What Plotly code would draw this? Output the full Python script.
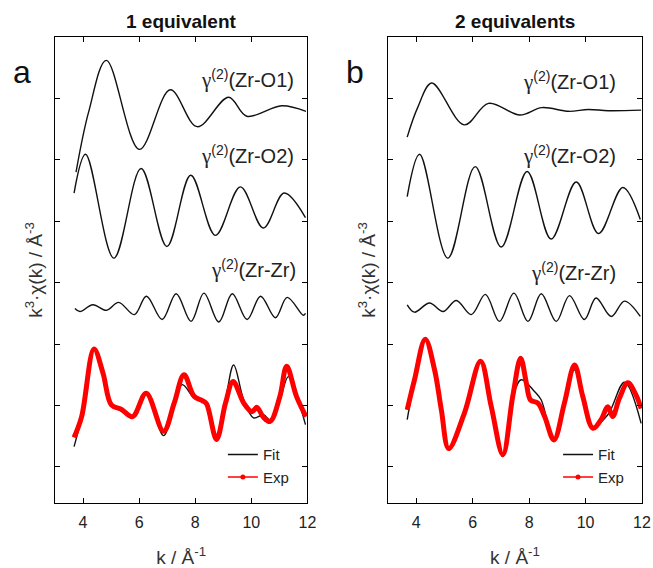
import plotly.graph_objects as go

# ---------------- data ----------------
# Panel a: 1 equivalent
K_O1_A = [3.75, 4.20, 4.83, 6.01, 7.11, 8.07, 9.19, 9.84, 11.08, 11.95]
Y_O1_A = [4.80, 5.78, 6.62, 5.17, 6.14, 5.54, 6.02, 5.71, 5.88, 5.79]

K_O2_A = [3.68, 4.09, 5.10, 6.07, 6.99, 7.84, 8.72, 9.61, 10.43, 11.17, 11.93]
Y_O2_A = [4.46, 5.09, 3.40, 4.86, 3.59, 4.75, 3.77, 4.56, 3.89, 4.46, 4.06]

K_ZZ_A = [3.71, 3.89, 4.35, 4.84, 5.27, 5.83, 6.26, 6.82, 7.32, 7.85, 8.31, 8.84,
          9.32, 9.85, 10.33, 10.86, 11.28, 11.85, 11.93]
Y_ZZ_A = [2.58, 2.53, 2.64, 2.55, 2.68, 2.48, 2.78, 2.40, 2.82, 2.37, 2.83, 2.36,
          2.82, 2.40, 2.78, 2.43, 2.76, 2.47, 2.50]

K_FIT_A = [3.68, 3.95, 4.39, 4.71, 5.01, 5.36, 5.77, 6.25, 6.87, 7.25, 7.54, 7.96, 8.25,
           8.40, 8.76, 9.08, 9.37, 9.73, 10.08, 10.43, 10.67, 11.02, 11.32, 11.67, 11.93]
Y_FIT_A = [0.33, 0.82, 1.92, 1.53, 1.01, 0.91, 0.82, 1.20, 0.51, 1.04, 1.34, 1.12, 1.06,
           1.00, 0.42, 1.09, 1.66, 1.09, 0.80, 0.85, 0.77, 1.09, 1.47, 1.09, 0.69]

K_EXP_A = [3.68, 3.95, 4.39, 4.71, 5.01, 5.36, 5.77, 6.25, 6.87, 7.25, 7.60, 7.96, 8.25,
           8.40, 8.76, 9.08, 9.35, 9.73, 10.02, 10.20, 10.43, 10.67, 11.02, 11.26, 11.61, 11.95]
Y_EXP_A = [0.48, 0.82, 1.92, 1.53, 1.01, 0.94, 0.82, 1.20, 0.58, 1.04, 1.50, 1.15, 1.08,
           1.03, 0.45, 1.04, 1.39, 1.04, 0.90, 0.97, 0.81, 0.74, 1.15, 1.64, 1.15, 0.82]

# Panel b: 2 equivalents
K_O1_B = [3.68, 4.05, 4.55, 5.70, 6.56, 7.67, 8.45, 9.40, 10.10, 10.80, 11.97]
Y_O1_B = [5.37, 5.85, 6.25, 5.57, 5.92, 5.73, 5.85, 5.79, 5.82, 5.80, 5.81]

K_O2_B = [3.68, 4.12, 5.12, 6.09, 7.01, 7.93, 8.78, 9.67, 10.46, 11.32, 11.94]
Y_O2_B = [4.40, 5.09, 3.40, 4.89, 3.58, 4.81, 3.71, 4.64, 3.80, 4.55, 4.03]

K_ZZ_B = [3.68, 3.94, 4.47, 4.95, 5.42, 5.95, 6.45, 6.95, 7.46, 7.96, 8.43, 8.96,
          9.43, 9.96, 10.37, 10.91, 11.38, 11.94]
Y_ZZ_B = [2.64, 2.52, 2.67, 2.53, 2.71, 2.48, 2.81, 2.37, 2.83, 2.37, 2.82, 2.37,
          2.79, 2.40, 2.75, 2.45, 2.70, 2.45]

K_FIT_B = [3.68, 3.94, 4.32, 4.65, 4.89, 5.15, 5.71, 6.28, 6.66, 7.07, 7.42, 7.72, 8.19,
           8.43, 8.88, 9.25, 9.61, 9.90, 10.26, 10.79, 11.38, 11.97]
Y_FIT_B = [0.77, 1.40, 2.08, 1.58, 0.93, 0.27, 0.88, 1.72, 0.98, 0.17, 1.13, 1.42, 1.23,
           1.09, 0.42, 1.02, 1.58, 1.12, 0.66, 0.85, 1.38, 0.71]

K_EXP_B = [3.68, 3.94, 4.32, 4.65, 4.89, 5.15, 5.71, 6.28, 6.66, 7.07, 7.42, 7.70, 7.90, 8.05,
           8.31, 8.55, 8.88, 9.25, 9.61, 9.90, 10.26, 10.55, 10.79, 10.96, 11.20, 11.50, 11.79, 11.97]
Y_EXP_B = [0.93, 1.42, 2.08, 1.58, 0.93, 0.30, 0.88, 1.72, 0.98, 0.20, 1.15, 1.77, 1.37, 1.09,
           1.04, 0.82, 0.44, 1.04, 1.66, 1.15, 0.63, 0.77, 0.98, 0.82, 1.12, 1.37, 1.17, 0.95]

PANEL_TITLES = ["1 equivalent", "2 equivalents"]
PANEL_LETTERS = ["a", "b"]
PATH_LABELS = ["(Zr-O1)", "(Zr-O2)", "(Zr-Zr)"]
X_TICKS = [4, 6, 8, 10, 12]
Y_TICKS = [0, 1, 2, 3, 4, 5, 6, 7]

FONT = "Liberation Sans, Arial, sans-serif"
BLACK = "#111111"
RED = "#ff0000"

fig = go.Figure()

panels = [
    dict(xa="x", ya="y", leg="legend",
         comps=[(K_O1_A, Y_O1_A), (K_O2_A, Y_O2_A), (K_ZZ_A, Y_ZZ_A)],
         fit=(K_FIT_A, Y_FIT_A), exp=(K_EXP_A, Y_EXP_A)),
    dict(xa="x2", ya="y2", leg="legend2",
         comps=[(K_O1_B, Y_O1_B), (K_O2_B, Y_O2_B), (K_ZZ_B, Y_ZZ_B)],
         fit=(K_FIT_B, Y_FIT_B), exp=(K_EXP_B, Y_EXP_B)),
]

for p in panels:
    for kx, ky in p["comps"]:
        fig.add_trace(go.Scatter(x=kx, y=ky, mode="lines", xaxis=p["xa"], yaxis=p["ya"],
                                 line=dict(color=BLACK, width=1.4, shape="spline", smoothing=1.0),
                                 showlegend=False, hoverinfo="skip"))
    fig.add_trace(go.Scatter(x=p["fit"][0], y=p["fit"][1], mode="lines", name="Fit",
                             xaxis=p["xa"], yaxis=p["ya"], legend=p["leg"],
                             line=dict(color=BLACK, width=1.4, shape="spline", smoothing=1.0),
                             showlegend=True))
    fig.add_trace(go.Scatter(x=p["exp"][0], y=p["exp"][1], mode="lines", name="Exp",
                             xaxis=p["xa"], yaxis=p["ya"],
                             line=dict(color=RED, width=5, shape="spline", smoothing=1.0),
                             showlegend=False))
    # legend entry for the experimental series (thin line + marker, as in the original)
    fig.add_trace(go.Scatter(x=[None], y=[None], mode="lines+markers", name="Exp",
                             xaxis=p["xa"], yaxis=p["ya"], legend=p["leg"],
                             line=dict(color=RED, width=1.4),
                             marker=dict(color=RED, size=5, symbol="circle"),
                             showlegend=True))

xax = dict(range=[3, 12], tickvals=X_TICKS, ticks="inside", ticklen=5, tickcolor="black",
           showline=True, linecolor="black", linewidth=1, mirror="ticks",
           showgrid=False, zeroline=False, automargin=False, ticklabelstandoff=5,
           tickfont=dict(family=FONT, size=16, color="#222"),
           title=dict(text="k / Å<sup>-1</sup>", font=dict(family=FONT, size=19, color="#333"),
                      standoff=20))
yax = dict(range=[-0.587, 7.0], tickvals=Y_TICKS, ticks="inside", ticklen=5, tickcolor="black",
           showline=True, linecolor="black", linewidth=1, mirror="ticks",
           showgrid=False, zeroline=False, showticklabels=False, automargin=False,
           title=dict(text="k<sup>3</sup>·χ(k) / Å<sup>-3</sup>",
                      font=dict(family=FONT, size=19, color="#333"), standoff=6))

DOM_A = [0.0, 0.430]
DOM_B = [0.5673, 1.0]

fig.update_layout(
    width=653, height=568,
    margin=dict(l=55, r=11, t=37, b=65, autoexpand=False),
    paper_bgcolor="white", plot_bgcolor="white",
    font=dict(family=FONT, color="#222"),
    xaxis=dict(xax, domain=DOM_A, anchor="y"),
    yaxis=dict(yax, domain=[0, 1], anchor="x"),
    xaxis2=dict(xax, domain=DOM_B, anchor="y2"),
    yaxis2=dict(yax, domain=[0, 1], anchor="x2"),
    legend=dict(x=0.286, y=0.139, xanchor="left", yanchor="top", bgcolor="rgba(0,0,0,0)",
                font=dict(family=FONT, size=15, color="#222"), tracegroupgap=0),
    legend2=dict(x=0.857, y=0.139, xanchor="left", yanchor="top", bgcolor="rgba(0,0,0,0)",
                 font=dict(family=FONT, size=15, color="#222"), tracegroupgap=0),
    showlegend=True,
)

# panel titles and letters
for dom, title, letter in zip([DOM_A, DOM_B], PANEL_TITLES, PANEL_LETTERS):
    fig.add_annotation(text="<b>%s</b>" % title, x=(dom[0] + dom[1]) / 2, y=1.0,
                       xref="paper", yref="paper", xanchor="center", yanchor="bottom",
                       yshift=3, showarrow=False, font=dict(family=FONT, size=19, color="#111"))
    fig.add_annotation(text=letter, x=dom[0], y=0.925, xref="paper", yref="paper",
                       xanchor="center", yanchor="middle", xshift=-33,
                       showarrow=False, font=dict(family=FONT, size=32, color="#111"))

# path labels  γ^(2)(...)
LABEL_POS_A = [(11.6, 6.31), (11.6, 5.08), (11.65, 3.22)]
LABEL_POS_B = [(11.15, 6.28), (11.15, 5.08), (11.15, 3.17)]
for (xa, ya, pos) in [("x", "y", LABEL_POS_A), ("x2", "y2", LABEL_POS_B)]:
    for lab, (lx, ly) in zip(PATH_LABELS, pos):
        fig.add_annotation(
            text='<span style="font-family:Liberation Serif;font-size:21px">γ</span>'
                 '<sup>(2)</sup>' + lab,
            x=lx, y=ly, xref=xa, yref=ya, xanchor="right", yanchor="middle",
            showarrow=False, font=dict(family=FONT, size=20, color="#222"))

# the page is photographed at exactly the figure size: drop the browser's default body margin
fig.write_html("out.html",
               config={"displayModeBar": False},
               post_script="document.body.style.margin='0px';document.body.style.overflow='hidden';")
